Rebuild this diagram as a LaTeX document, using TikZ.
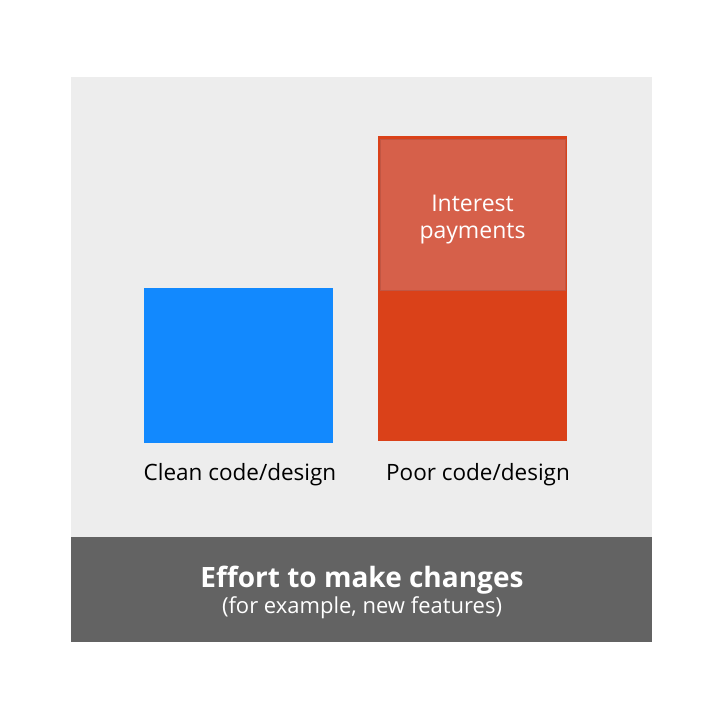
\documentclass[tikz,border=0pt]{standalone}
\usepackage{fontspec}
\setmainfont{Open Sans}
\usetikzlibrary{positioning}

\definecolor{panelgray}{HTML}{EDEDED}
\definecolor{bargray}{HTML}{636363}
\definecolor{cleanblue}{HTML}{1289FE}
\definecolor{poorred}{HTML}{DA4119}
\definecolor{interestred}{HTML}{D6604A}

\begin{document}
\begin{tikzpicture}[
  x=1pt,y=-1pt,
  panel/.style={fill=panelgray,inner sep=0pt,outer sep=0pt,anchor=north west},
  bar/.style={fill=bargray,inner sep=0pt,outer sep=0pt,anchor=north west,text=white,align=center},
  block/.style={inner sep=0pt,outer sep=0pt,anchor=north west,minimum width=189pt},
  caption/.style={font=\fontsize{22.5}{27}\selectfont,text=black},
  every node/.style={align=center}]

  \useasboundingbox (0,0) rectangle (717,716);

  % Background panel and bottom bar
  \node[panel,minimum width=581pt,minimum height=460pt] (panel) at (71,77) {};
  \node[bar,minimum width=581pt,minimum height=105pt] (effort) at (71,537) {};
  \node[text=white,font=\bfseries\fontsize{28}{32}\selectfont] (title) at (362,580) {Effort to make changes};
  \node[text=white,font=\fontsize{22}{26}\selectfont] (sub) at (362,608) {(for example, new features)};

  % The two bars
  \node[block,fill=cleanblue,minimum height=155pt] (clean) at (144,288) {};
  \node[block,fill=poorred,minimum height=305pt] (poor) at (378,136) {};
  \node[block,fill=interestred,draw=interestred!90!black,line width=0.6pt,
        minimum width=185pt,minimum height=151pt] (interest) at (380,139) {};
  \node[text=white,font=\fontsize{23}{27}\selectfont] (itext) at ([yshift=-5pt]interest.center) {Interest\\payments};

  % Captions under the bars
  \node[caption] (cleanlbl) at (240,475) {Clean code/design};
  \node[caption] (poorlbl) at (478,475) {Poor code/design};

\end{tikzpicture}
\end{document}
